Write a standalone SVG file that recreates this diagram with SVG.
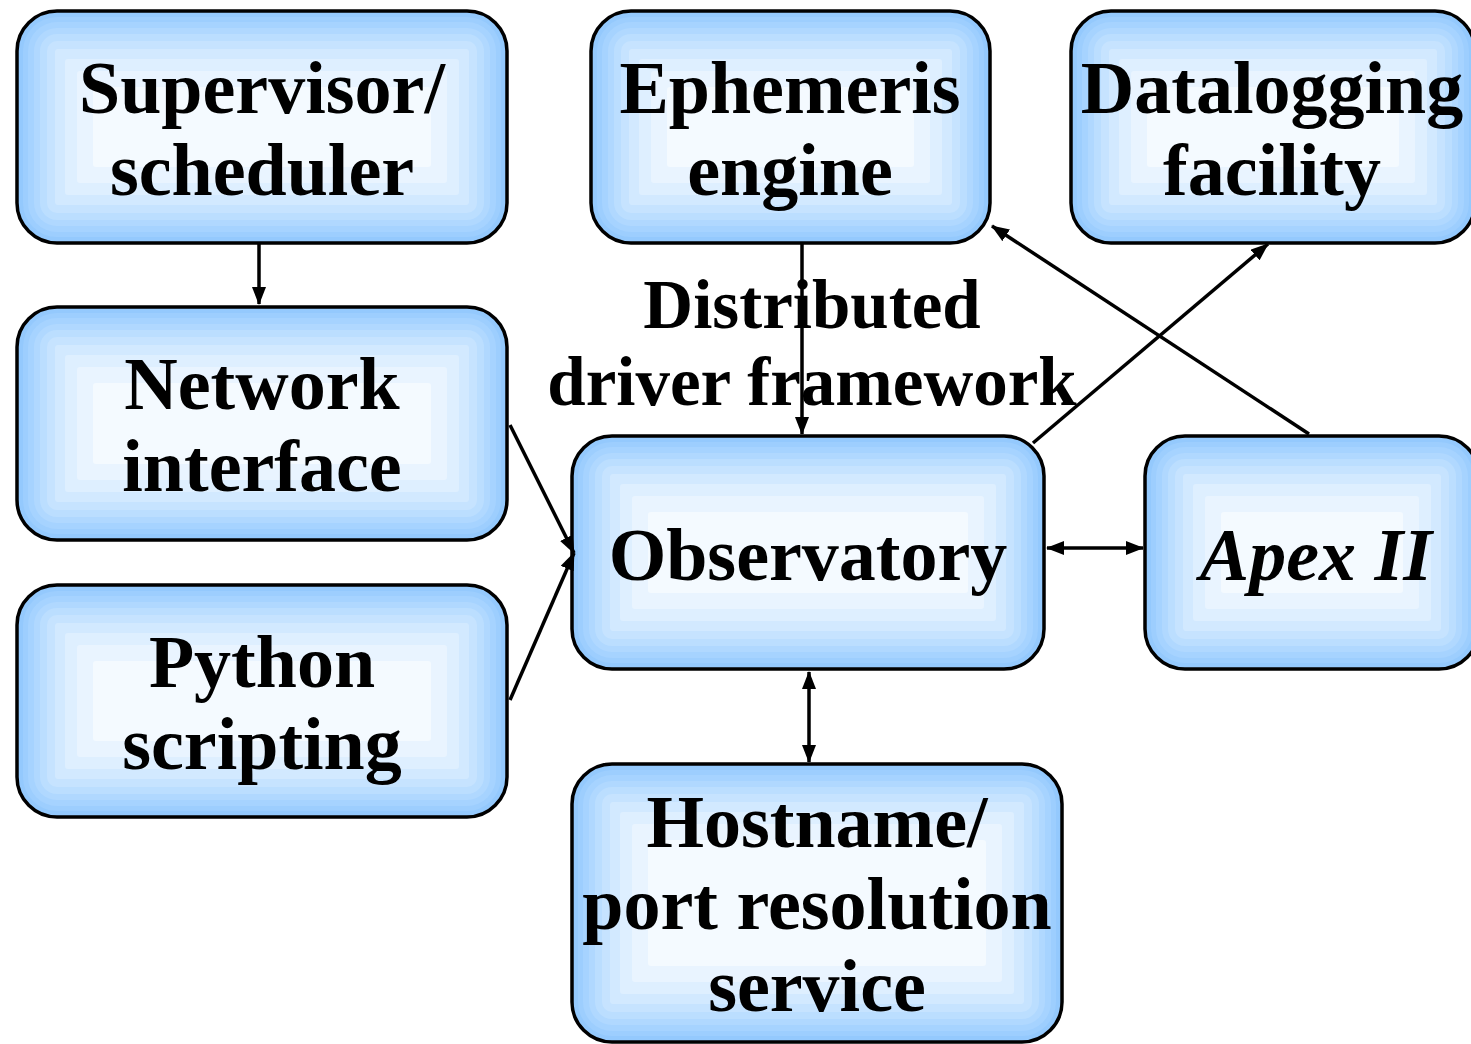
<svg xmlns="http://www.w3.org/2000/svg" width="1471" height="1044" viewBox="0 0 1471 1044">
<defs>
<style>
.c0{fill:#94c9fd}.c1{fill:#9dcefe}.c2{fill:#a6d3ff}.c3{fill:#b0d8ff}.c4{fill:#bbdeff}
.c5{fill:#c6e3ff}.c6{fill:#d2e9ff}.c7{fill:#deefff}.c8{fill:#e9f4ff}.c9{fill:#f4faff}
.ol{fill:none;stroke:#000;stroke-width:3.5}
.t{font-family:"Liberation Serif","Times New Roman",serif;font-weight:bold;font-size:74px;fill:#000;text-anchor:middle}
.lb{font-size:69px}
.it{font-style:italic}
.ln{stroke:#000;stroke-width:3.5;fill:none}
</style>
<marker id="ah" viewBox="0 0 18 14" refX="17" refY="7" markerWidth="18" markerHeight="14" markerUnits="userSpaceOnUse" orient="auto-start-reverse">
<path d="M0,0 L18,7 L0,14 Z" fill="#000"/>
</marker>
</defs>
<rect x="0" y="0" width="1471" height="1044" fill="#ffffff"/>

<g id="supervisor">
<rect class="c0" x="17" y="11" width="490" height="232" rx="40"/>
<rect class="c1" x="23" y="17" width="478" height="220" rx="34"/>
<rect class="c2" x="28" y="22" width="468" height="210" rx="29"/>
<rect class="c3" x="34" y="28" width="456" height="198" rx="23"/>
<rect class="c4" x="40" y="34" width="444" height="186" rx="17"/>
<rect class="c5" x="47" y="41" width="430" height="172" rx="10"/>
<rect class="c6" x="55" y="49" width="414" height="156" rx="3"/>
<rect class="c7" x="65" y="59" width="394" height="136" rx="3"/>
<rect class="c8" x="77" y="71" width="370" height="112" rx="3"/>
<rect class="c9" x="93" y="87" width="338" height="80" rx="3"/>
<rect class="ol" x="17" y="11" width="490" height="232" rx="40"/>
<text class="t" x="262" y="113">Supervisor/</text>
<text class="t" x="262" y="195">scheduler</text>
</g>

<g id="ephemeris">
<rect class="c0" x="591" y="11" width="399" height="232" rx="40"/>
<rect class="c1" x="597" y="17" width="387" height="220" rx="34"/>
<rect class="c2" x="602" y="22" width="377" height="210" rx="29"/>
<rect class="c3" x="608" y="28" width="365" height="198" rx="23"/>
<rect class="c4" x="614" y="34" width="353" height="186" rx="17"/>
<rect class="c5" x="621" y="41" width="339" height="172" rx="10"/>
<rect class="c6" x="629" y="49" width="323" height="156" rx="3"/>
<rect class="c7" x="639" y="59" width="303" height="136" rx="3"/>
<rect class="c8" x="651" y="71" width="279" height="112" rx="3"/>
<rect class="c9" x="667" y="87" width="247" height="80" rx="3"/>
<rect class="ol" x="591" y="11" width="399" height="232" rx="40"/>
<text class="t" x="790" y="113">Ephemeris</text>
<text class="t" x="790" y="195">engine</text>
</g>

<g id="datalogging">
<rect class="c0" x="1071" y="11" width="404" height="232" rx="40"/>
<rect class="c1" x="1077" y="17" width="392" height="220" rx="34"/>
<rect class="c2" x="1082" y="22" width="382" height="210" rx="29"/>
<rect class="c3" x="1088" y="28" width="370" height="198" rx="23"/>
<rect class="c4" x="1094" y="34" width="358" height="186" rx="17"/>
<rect class="c5" x="1101" y="41" width="344" height="172" rx="10"/>
<rect class="c6" x="1109" y="49" width="328" height="156" rx="3"/>
<rect class="c7" x="1119" y="59" width="308" height="136" rx="3"/>
<rect class="c8" x="1131" y="71" width="284" height="112" rx="3"/>
<rect class="c9" x="1147" y="87" width="252" height="80" rx="3"/>
<rect class="ol" x="1071" y="11" width="404" height="232" rx="40"/>
<text class="t" x="1272" y="113">Datalogging</text>
<text class="t" x="1272" y="195">facility</text>
</g>

<g id="network">
<rect class="c0" x="17" y="307" width="490" height="233" rx="40"/>
<rect class="c1" x="23" y="313" width="478" height="221" rx="34"/>
<rect class="c2" x="28" y="318" width="468" height="211" rx="29"/>
<rect class="c3" x="34" y="324" width="456" height="199" rx="23"/>
<rect class="c4" x="40" y="330" width="444" height="187" rx="17"/>
<rect class="c5" x="47" y="337" width="430" height="173" rx="10"/>
<rect class="c6" x="55" y="345" width="414" height="157" rx="3"/>
<rect class="c7" x="65" y="355" width="394" height="137" rx="3"/>
<rect class="c8" x="77" y="367" width="370" height="113" rx="3"/>
<rect class="c9" x="93" y="383" width="338" height="81" rx="3"/>
<rect class="ol" x="17" y="307" width="490" height="233" rx="40"/>
<text class="t" x="262" y="409">Network</text>
<text class="t" x="262" y="491">interface</text>
</g>

<g id="python">
<rect class="c0" x="17" y="585" width="490" height="232" rx="40"/>
<rect class="c1" x="23" y="591" width="478" height="220" rx="34"/>
<rect class="c2" x="28" y="596" width="468" height="210" rx="29"/>
<rect class="c3" x="34" y="602" width="456" height="198" rx="23"/>
<rect class="c4" x="40" y="608" width="444" height="186" rx="17"/>
<rect class="c5" x="47" y="615" width="430" height="172" rx="10"/>
<rect class="c6" x="55" y="623" width="414" height="156" rx="3"/>
<rect class="c7" x="65" y="633" width="394" height="136" rx="3"/>
<rect class="c8" x="77" y="645" width="370" height="112" rx="3"/>
<rect class="c9" x="93" y="661" width="338" height="80" rx="3"/>
<rect class="ol" x="17" y="585" width="490" height="232" rx="40"/>
<text class="t" x="262" y="687">Python</text>
<text class="t" x="262" y="769">scripting</text>
</g>

<g id="observatory">
<rect class="c0" x="572" y="436" width="472" height="233" rx="40"/>
<rect class="c1" x="578" y="442" width="460" height="221" rx="34"/>
<rect class="c2" x="583" y="447" width="450" height="211" rx="29"/>
<rect class="c3" x="589" y="453" width="438" height="199" rx="23"/>
<rect class="c4" x="595" y="459" width="426" height="187" rx="17"/>
<rect class="c5" x="602" y="466" width="412" height="173" rx="10"/>
<rect class="c6" x="610" y="474" width="396" height="157" rx="3"/>
<rect class="c7" x="620" y="484" width="376" height="137" rx="3"/>
<rect class="c8" x="632" y="496" width="352" height="113" rx="3"/>
<rect class="c9" x="648" y="512" width="320" height="81" rx="3"/>
<rect class="ol" x="572" y="436" width="472" height="233" rx="40"/>
<text class="t" x="808" y="580">Observatory</text>
</g>

<g id="apex">
<rect class="c0" x="1145" y="436" width="334" height="233" rx="40"/>
<rect class="c1" x="1151" y="442" width="322" height="221" rx="34"/>
<rect class="c2" x="1156" y="447" width="312" height="211" rx="29"/>
<rect class="c3" x="1162" y="453" width="300" height="199" rx="23"/>
<rect class="c4" x="1168" y="459" width="288" height="187" rx="17"/>
<rect class="c5" x="1175" y="466" width="274" height="173" rx="10"/>
<rect class="c6" x="1183" y="474" width="258" height="157" rx="3"/>
<rect class="c7" x="1193" y="484" width="238" height="137" rx="3"/>
<rect class="c8" x="1205" y="496" width="214" height="113" rx="3"/>
<rect class="c9" x="1221" y="512" width="182" height="81" rx="3"/>
<rect class="ol" x="1145" y="436" width="334" height="233" rx="40"/>
<text class="t it" x="1316" y="580">Apex II</text>
</g>

<g id="hostname">
<rect class="c0" x="572" y="764" width="490" height="278" rx="40"/>
<rect class="c1" x="578" y="770" width="478" height="266" rx="34"/>
<rect class="c2" x="583" y="775" width="468" height="256" rx="29"/>
<rect class="c3" x="589" y="781" width="456" height="244" rx="23"/>
<rect class="c4" x="595" y="787" width="444" height="232" rx="17"/>
<rect class="c5" x="602" y="794" width="430" height="218" rx="10"/>
<rect class="c6" x="610" y="802" width="414" height="202" rx="3"/>
<rect class="c7" x="620" y="812" width="394" height="182" rx="3"/>
<rect class="c8" x="632" y="824" width="370" height="158" rx="3"/>
<rect class="c9" x="648" y="840" width="338" height="126" rx="3"/>
<rect class="ol" x="572" y="764" width="490" height="278" rx="40"/>
<text class="t" x="817" y="847">Hostname/</text>
<text class="t" x="817" y="929">port resolution</text>
<text class="t" x="817" y="1011">service</text>
</g>

<g id="connectors">
<line class="ln" x1="259" y1="244" x2="259" y2="304" marker-end="url(#ah)"/>
<line class="ln" x1="802" y1="244" x2="802" y2="434" marker-end="url(#ah)"/>
<line class="ln" x1="510" y1="425" x2="574" y2="553" marker-end="url(#ah)"/>
<line class="ln" x1="510" y1="700" x2="574" y2="553" marker-end="url(#ah)"/>
<line class="ln" x1="1033" y1="443" x2="1268" y2="244" marker-end="url(#ah)"/>
<line class="ln" x1="1309" y1="434" x2="992" y2="226" marker-end="url(#ah)"/>
<line class="ln" x1="1047" y1="548" x2="1143" y2="548" marker-start="url(#ah)" marker-end="url(#ah)"/>
<line class="ln" x1="809" y1="672" x2="809" y2="762" marker-start="url(#ah)" marker-end="url(#ah)"/>
</g>

<g id="label-distributed">
<text class="t lb" x="812" y="328">Distributed</text>
<text class="t lb" x="812" y="405">driver framework</text>
</g>
</svg>
